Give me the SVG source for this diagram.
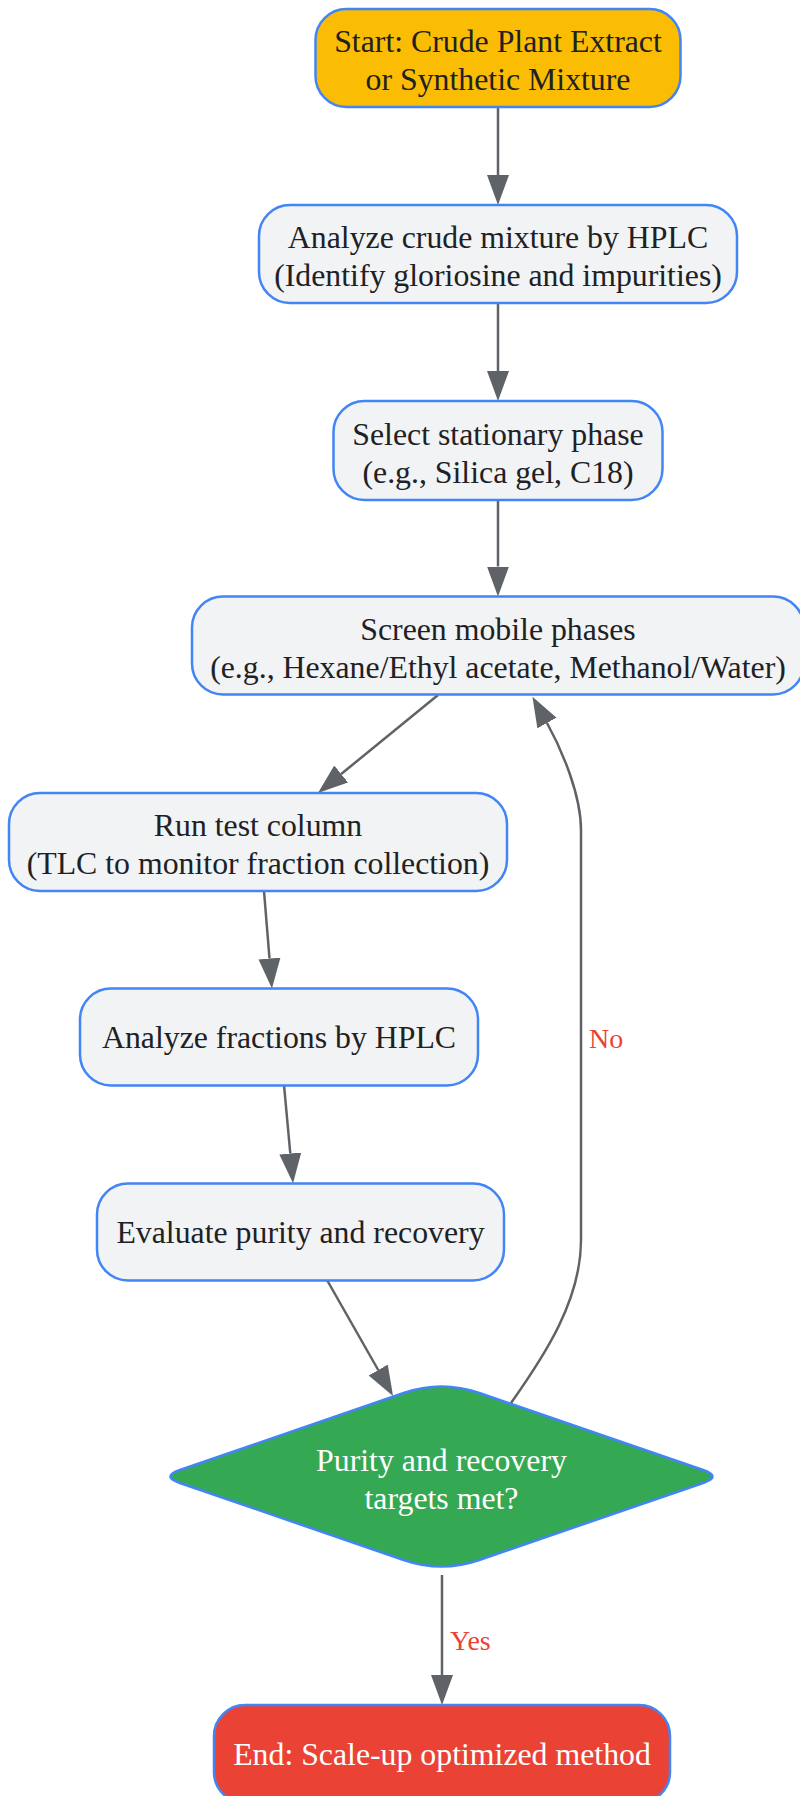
<svg xmlns="http://www.w3.org/2000/svg" width="800" height="1796" viewBox="0 0 800 1796">
<defs>
<marker id="arr" markerUnits="userSpaceOnUse" markerWidth="32" markerHeight="24" refX="0" refY="11" orient="auto">
<path d="M0,0 L30,11 L0,22 Z" fill="#5F6368"/>
</marker>
<style>
.node rect, .node path { stroke: #4285F4; stroke-width: 2.5; }
.proc rect { fill: #F1F3F4; }
.t { font-family: "Liberation Serif", "Times New Roman", serif; font-size: 31.8px; text-anchor: middle; fill: #202124; }
.w { fill: #FFFFFF; }
.edge { fill: none; stroke: #5F6368; stroke-width: 2.5; marker-end: url(#arr); }
.lbl { font-family: "Liberation Serif", "Times New Roman", serif; font-size: 28px; fill: #EA4335; }
</style>
</defs>
<rect width="800" height="1796" fill="#FFFFFF"/>
<g id="edges">
<path class="edge" d="M498,107 L498,175"/>
<path class="edge" d="M498,303 L498,371"/>
<path class="edge" d="M498,500 L498,566.5"/>
<path class="edge" d="M438,695 L341.2,774"/>
<path class="edge" d="M264,891 L269.5,958.5"/>
<path class="edge" d="M284,1085 L290.3,1153.5"/>
<path class="edge" d="M327,1280 L378.2,1370"/>
<path class="edge" d="M511,1403 C545,1355 581,1300 581,1240 L581,830 C581,795 562,750 547,723"/>
<path class="edge" d="M442,1575 L442,1675"/>
<text class="lbl" x="589" y="1048">No</text>
<text class="lbl" x="450" y="1650">Yes</text>
</g>
<g id="start" class="node">
<rect x="315.5" y="9" width="365" height="98" rx="31" fill="#FBBC04"/>
<text class="t" x="498" y="52">Start: Crude Plant Extract</text>
<text class="t" x="498" y="90">or Synthetic Mixture</text>
</g>
<g id="analyze_crude" class="node proc">
<rect x="259" y="205" width="478" height="98" rx="31"/>
<text class="t" x="498" y="248">Analyze crude mixture by HPLC</text>
<text class="t" x="498" y="286">(Identify gloriosine and impurities)</text>
</g>
<g id="select_phase" class="node proc">
<rect x="333.5" y="401" width="329" height="99" rx="31"/>
<text class="t" x="498" y="444.5">Select stationary phase</text>
<text class="t" x="498" y="482.5">(e.g., Silica gel, C18)</text>
</g>
<g id="screen_mobile" class="node proc">
<rect x="192" y="596.5" width="612" height="98" rx="31"/>
<text class="t" x="498" y="639.5">Screen mobile phases</text>
<text class="t" x="498" y="677.5">(e.g., Hexane/Ethyl acetate, Methanol/Water)</text>
</g>
<g id="run_column" class="node proc">
<rect x="9" y="793" width="498" height="98" rx="31"/>
<text class="t" x="258" y="836">Run test column</text>
<text class="t" x="258" y="874">(TLC to monitor fraction collection)</text>
</g>
<g id="analyze_fractions" class="node proc">
<rect x="80" y="988.5" width="398" height="97" rx="31"/>
<text class="t" x="279" y="1048">Analyze fractions by HPLC</text>
</g>
<g id="evaluate" class="node proc">
<rect x="97" y="1183.5" width="407" height="97" rx="31"/>
<text class="t" x="300.5" y="1243">Evaluate purity and recovery</text>
</g>
<g id="decision" class="node">
<path d="M179.9,1470 L403.7,1393 Q441.5,1380 479.3,1393 L703.1,1470 Q722,1476.5 703.1,1483 L479.3,1560 Q441.5,1573 403.7,1560 L179.9,1483 Q161,1476.5 179.9,1470 Z" fill="#34A853"/>
<text class="t w" x="441.5" y="1470.5">Purity and recovery</text>
<text class="t w" x="441.5" y="1508.5">targets met?</text>
</g>
<g id="end" class="node">
<rect x="214" y="1705" width="456" height="98" rx="31" fill="#EA4335"/>
<text class="t w" x="442" y="1765">End: Scale-up optimized method</text>
</g>
</svg>
